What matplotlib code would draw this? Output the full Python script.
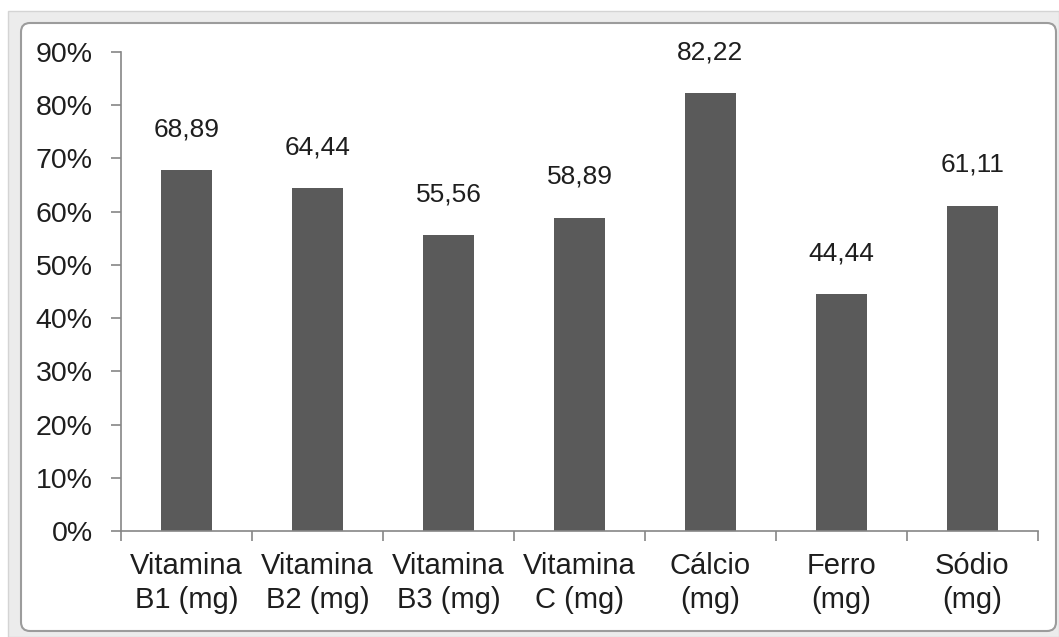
import matplotlib
matplotlib.use("Agg")
import matplotlib.pyplot as plt
from matplotlib.patches import Rectangle, FancyBboxPatch
import numpy as np

categories = ["Vitamina\nB1 (mg)", "Vitamina\nB2 (mg)", "Vitamina\nB3 (mg)",
              "Vitamina\nC (mg)", "Cálcio\n(mg)", "Ferro\n(mg)", "Sódio\n(mg)"]
values = [67.78, 64.44, 55.56, 58.89, 82.22, 44.44, 61.11]
value_labels = ["68,89", "64,44", "55,56", "58,89", "82,22", "44,44", "61,11"]
y_ticks = [0, 10, 20, 30, 40, 50, 60, 70, 80, 90]

plt.rcParams["font.family"] = ["Liberation Sans", "DejaVu Sans"]

W, H = 1059, 637
fig = plt.figure(figsize=(W / 100, H / 100), dpi=100)
fig.patch.set_facecolor("white")

# window frame drawn in pixel coordinates
bg = fig.add_axes([0, 0, 1, 1], zorder=0)
bg.set_xlim(0, W)
bg.set_ylim(H, 0)
bg.axis("off")
bg.add_patch(Rectangle((8, 11), W - 8, H - 11, facecolor="#ececec", edgecolor="#d4d4d4", lw=1))
bg.add_patch(FancyBboxPatch((21, 23), 1035, 608, boxstyle="round,pad=0,rounding_size=9",
                            facecolor="white", edgecolor="#9c9c9c", lw=1.5))

ax = fig.add_axes([121 / W, 1 - 531 / H, (1038 - 121) / W, (531 - 52) / H], zorder=1)
ax.patch.set_alpha(0)

x = np.arange(len(categories))
ax.bar(x, values, width=0.39, color="#5a5a5a", zorder=2)

for xi, v, lab in zip(x, values, value_labels):
    ax.annotate(lab, (xi, v), xytext=(0, 29.5), textcoords="offset points",
                ha="center", va="center", fontsize=19, color="#1e1e1e")

ax.set_xlim(-0.5, len(categories) - 0.5)
ax.set_ylim(0, 90)
ax.set_yticks(y_ticks)
ax.set_yticklabels([f"{t}%" for t in y_ticks], fontsize=20.5, color="#1e1e1e")

ax.set_xticks(np.arange(-0.5, len(categories)))
ax.set_xticklabels([])
ax.set_xticks(x, minor=True)
ax.set_xticklabels(categories, minor=True, fontsize=21, color="#1e1e1e", linespacing=1.3)
ax.tick_params(axis="x", which="major", direction="out", length=7, width=1.2, color="#868686")
ax.tick_params(axis="x", which="minor", length=0, pad=15)
ax.tick_params(axis="y", direction="out", length=7.5, width=1.2, color="#868686", pad=13)

for side in ["top", "right"]:
    ax.spines[side].set_visible(False)
for side in ["left", "bottom"]:
    ax.spines[side].set_color("#868686")
    ax.spines[side].set_linewidth(1.2)

fig.savefig("out.png", dpi=100)
